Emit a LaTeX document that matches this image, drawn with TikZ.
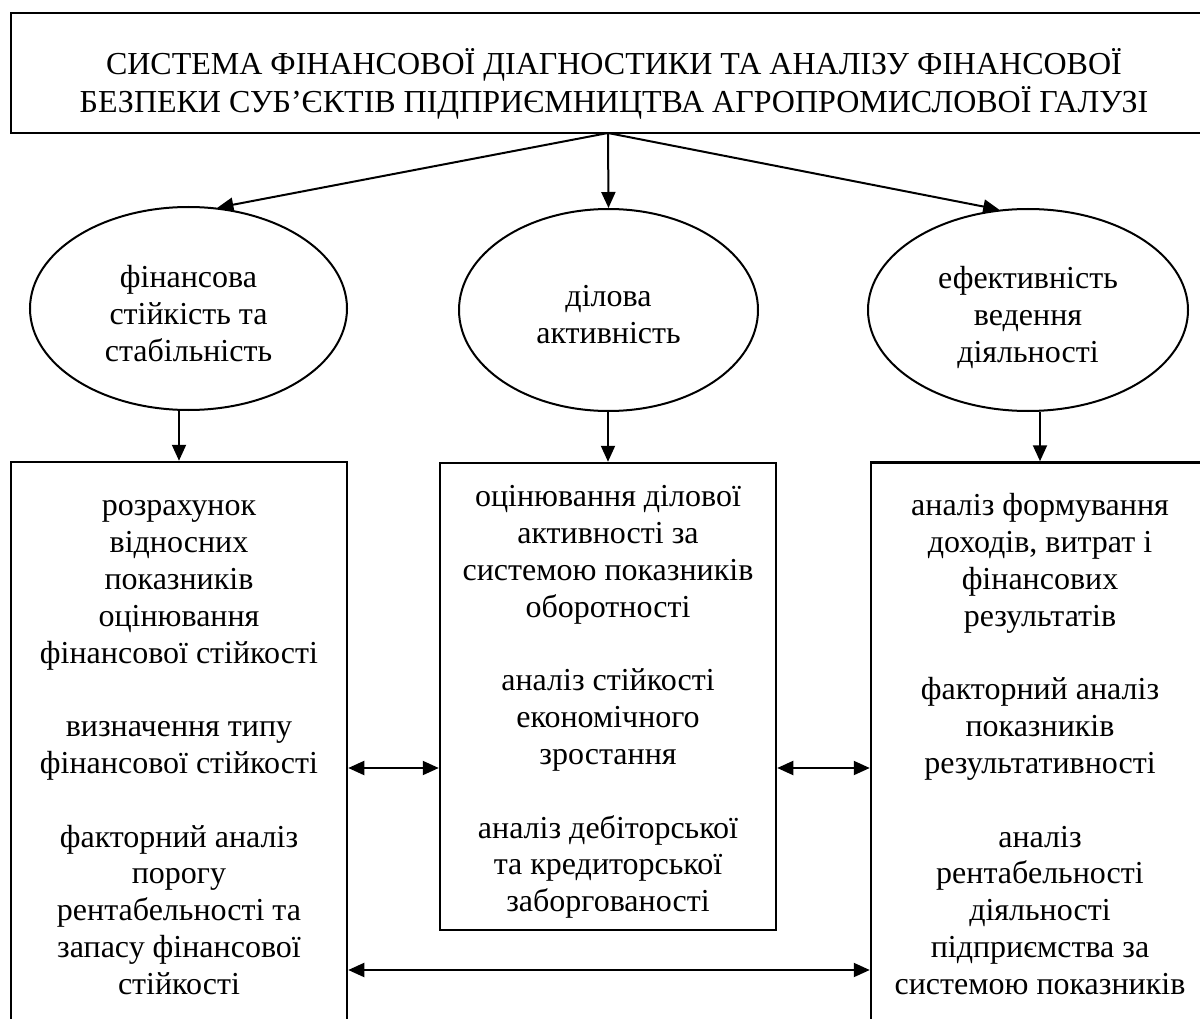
\documentclass[tikz,border=0pt]{standalone}
\usepackage{fontspec}
\setmainfont{Liberation Serif}
\usetikzlibrary{shapes.geometric,arrows.meta}

\begin{document}
\begin{tikzpicture}[x=1pt,y=-1pt,
  frame/.style={draw,line width=2.5pt,inner sep=0pt},
  oval/.style={draw,ellipse,line width=2pt,inner sep=0pt},
  txt/.style={anchor=north,inner sep=0pt,align=center,
    font=\fontsize{32}{36.8}\selectfont},
  arr/.style={line width=2pt,-{Triangle[length=16pt,width=14pt]}},
  darr/.style={line width=2pt,
    {Triangle[length=16pt,width=14pt]}-{Triangle[length=16pt,width=14pt]}}]

\useasboundingbox (0,0) rectangle (1200,1019);
\clip (0,0) rectangle (1200,1019);

% title block
\node[frame,minimum width=1206pt,minimum height=120pt] (top) at (614,73) {};
\node[txt] (toptext) at (614,48.2)
  {\strut СИСТЕМА ФІНАНСОВОЇ ДІАГНОСТИКИ ТА АНАЛІЗУ ФІНАНСОВОЇ\\
   БЕЗПЕКИ СУБ’ЄКТІВ ПІДПРИЄМНИЦТВА АГРОПРОМИСЛОВОЇ ГАЛУЗІ};
\coordinate (hub) at (608,133);

% three directions
\node[oval,minimum width=317pt,minimum height=203pt] (e1) at (188.5,308.5) {};
\node[oval,minimum width=299pt,minimum height=202pt] (e2) at (608.5,310) {};
\node[oval,minimum width=320pt,minimum height=202pt] (e3) at (1028,310) {};
\node[txt] (t1) at (188.5,262) {\strut фінансова\\стійкість та\\стабільність};
\node[txt] (t2) at (608.5,281) {\strut ділова\\активність};
\node[txt] (t3) at (1028,263) {\strut ефективність\\ведення\\діяльності};

% analysis blocks
\node[frame,minimum width=336pt,minimum height=578pt] (b1) at (179,751) {};
\node[frame,minimum width=336pt,minimum height=467pt] (b2) at (608,696.5) {};
\node[frame,minimum width=338pt,minimum height=578pt] (b3) at (1040,751.5) {};

\node[txt] (bt1) at (179,490) {\strut розрахунок\\відносних\\показників\\оцінювання\\фінансової стійкості\\[36.8pt]
  визначення типу\\фінансової стійкості\\[36.8pt]
  факторний аналіз\\порогу\\рентабельності та\\запасу фінансової\\стійкості};
\node[txt] (bt2) at (608,481) {\strut оцінювання ділової\\активності за\\системою показників\\оборотності\\[36.8pt]
  аналіз стійкості\\економічного\\зростання\\[36.8pt]
  аналіз дебіторської\\та кредиторської\\заборгованості};
\node[txt] (bt3) at (1040,490) {\strut аналіз формування\\доходів, витрат і\\фінансових\\результатів\\[36.8pt]
  факторний аналіз\\показників\\результативності\\[36.8pt]
  аналіз\\рентабельності\\діяльності\\підприємства за\\системою показників};

% connectors
\draw[arr] (hub) -- (e1.74);
\draw[arr] (hub) -- (e2.north);
\draw[arr] (hub) -- (e3.106);

\draw[arr] (b1.north |- e1.south) -- (b1.north);
\draw[arr] (b2.north |- e2.south) -- (b2.north);
\draw[arr] (b3.north |- e3.south) -- (b3.north);

\coordinate (r1) at (0,768);
\coordinate (r2) at (0,970);
\draw[darr] (b1.east |- r1) -- (b2.west |- r1);
\draw[darr] (b2.east |- r1) -- (b3.west |- r1);
\draw[darr] (b1.east |- r2) -- (b3.west |- r2);
\end{tikzpicture}
\end{document}
